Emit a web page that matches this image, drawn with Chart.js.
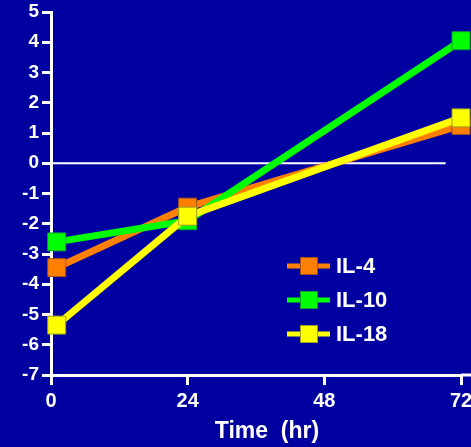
<!DOCTYPE html>
<html>
<head>
<meta charset="utf-8">
<script src="https://cdn.jsdelivr.net/npm/chart.js@4.4.0/dist/chart.umd.min.js"></script>
<style>
  html, body { margin: 0; padding: 0; background: #0000A0; }
  #wrap { width: 471px; height: 447px; }
</style>
</head>
<body>
<div id="wrap"><canvas id="myChart" width="471" height="447"></canvas></div>
<script>
// time points (hr) and fold change for each cytokine
const hours = [1, 24, 72];
const il4 = [-3.45, -1.45, 1.25];
const il10 = [-2.6, -1.9, 4.05];
const il18 = [-5.35, -1.75, 1.5];
const seriesNames = ['IL-4', 'IL-10', 'IL-18'];
const xTickValues = [0, 24, 48, 72];

const FONT = '"Liberation Sans", Arial, sans-serif';

function pts(vals) {
  return vals.map((v, i) => ({ x: hours[i], y: v }));
}

// zero line, legend, axis title
const overlay = {
  id: 'overlay',
  beforeDatasetsDraw(chart) {
    const ctx = chart.ctx;
    const x = chart.scales.x, y = chart.scales.y;
    const y0 = y.getPixelForValue(0);
    ctx.save();
    ctx.strokeStyle = '#ffffff';
    ctx.lineWidth = 2;
    ctx.beginPath();
    ctx.moveTo(x.left, y0);
    ctx.lineTo(x.getPixelForValue(69.3), y0);
    ctx.stroke();
    // x axis runs on to the edge
    ctx.lineWidth = 3;
    ctx.beginPath();
    ctx.moveTo(x.right, y.bottom);
    ctx.lineTo(chart.width, y.bottom);
    ctx.stroke();
    ctx.restore();
  },
  afterDraw(chart) {
    const ctx = chart.ctx;
    ctx.save();
    const rows = [266, 300, 334];
    chart.data.datasets.forEach((ds, i) => {
      const ry = rows[i];
      ctx.strokeStyle = ds.borderColor;
      ctx.lineWidth = 5;
      ctx.beginPath();
      ctx.moveTo(287, ry);
      ctx.lineTo(330, ry);
      ctx.stroke();
      ctx.fillStyle = ds.borderColor;
      ctx.fillRect(300, ry - 9, 18, 18);
      ctx.strokeStyle = ds.pointBorderColor;
      ctx.lineWidth = 1;
      ctx.strokeRect(300.5, ry - 8.5, 17, 17);
      ctx.fillStyle = '#ffffff';
      ctx.font = 'bold 22px ' + FONT;
      ctx.textBaseline = 'middle';
      ctx.textAlign = 'left';
      ctx.fillText(ds.label, 336, ry + 1);
    });
    ctx.font = 'bold 23px ' + FONT;
    ctx.textAlign = 'center';
    ctx.textBaseline = 'middle';
    ctx.fillText('Time  (hr)', 267, 432);
    ctx.restore();
  }
};

const ctx = document.getElementById('myChart').getContext('2d');
const myChart = new Chart(ctx, {
  type: 'line',
  data: {
    datasets: [
      {
        label: seriesNames[0],
        data: pts(il4),
        borderColor: '#FF8000',
        backgroundColor: '#FF8000',
        pointBorderColor: '#A05020',
        order: 2
      },
      {
        label: seriesNames[1],
        data: pts(il10),
        borderColor: '#00FF00',
        backgroundColor: '#00FF00',
        pointBorderColor: '#10A030',
        order: 1
      },
      {
        label: seriesNames[2],
        data: pts(il18),
        borderColor: '#FFFF00',
        backgroundColor: '#FFFF00',
        pointBorderColor: '#A0A020',
        order: 0
      }
    ].map(d => Object.assign(d, {
      borderWidth: 7,
      pointStyle: 'rect',
      pointRadius: 12.7,
      pointBorderWidth: 1,
      tension: 0,
      fill: false,
      clip: false
    }))
  },
  plugins: [overlay],
  options: {
    responsive: false,
    animation: false,
    devicePixelRatio: 1,
    layout: { autoPadding: false, padding: { top: 12, right: 10, left: 0, bottom: 0 } },
    plugins: {
      legend: { display: false },
      tooltip: { enabled: false }
    },
    scales: {
      x: {
        type: 'linear',
        min: 0,
        max: 72,
        afterBuildTicks: (s) => { s.ticks = xTickValues.map(v => ({ value: v })); },
        afterFit: (s) => { s.height = 72; s.paddingLeft = 0; s.paddingRight = 0; },
        ticks: {
          color: '#ffffff',
          font: { family: FONT, size: 20, weight: 'bold' },
          padding: 4,
          maxRotation: 0
        },
        grid: { drawOnChartArea: false, tickLength: 10, color: '#ffffff', lineWidth: 3 },
        border: { color: '#ffffff', width: 3 }
      },
      y: {
        min: -7,
        max: 5,
        afterFit: (s) => { s.width = 51; s.paddingTop = 0; s.paddingBottom = 0; },
        ticks: {
          stepSize: 1,
          color: '#ffffff',
          font: { family: FONT, size: 19, weight: 'bold' },
          padding: 3
        },
        grid: { drawOnChartArea: false, tickLength: 9, color: '#ffffff', lineWidth: 3 },
        border: { color: '#ffffff', width: 3 }
      }
    }
  }
});
</script>
</body>
</html>
